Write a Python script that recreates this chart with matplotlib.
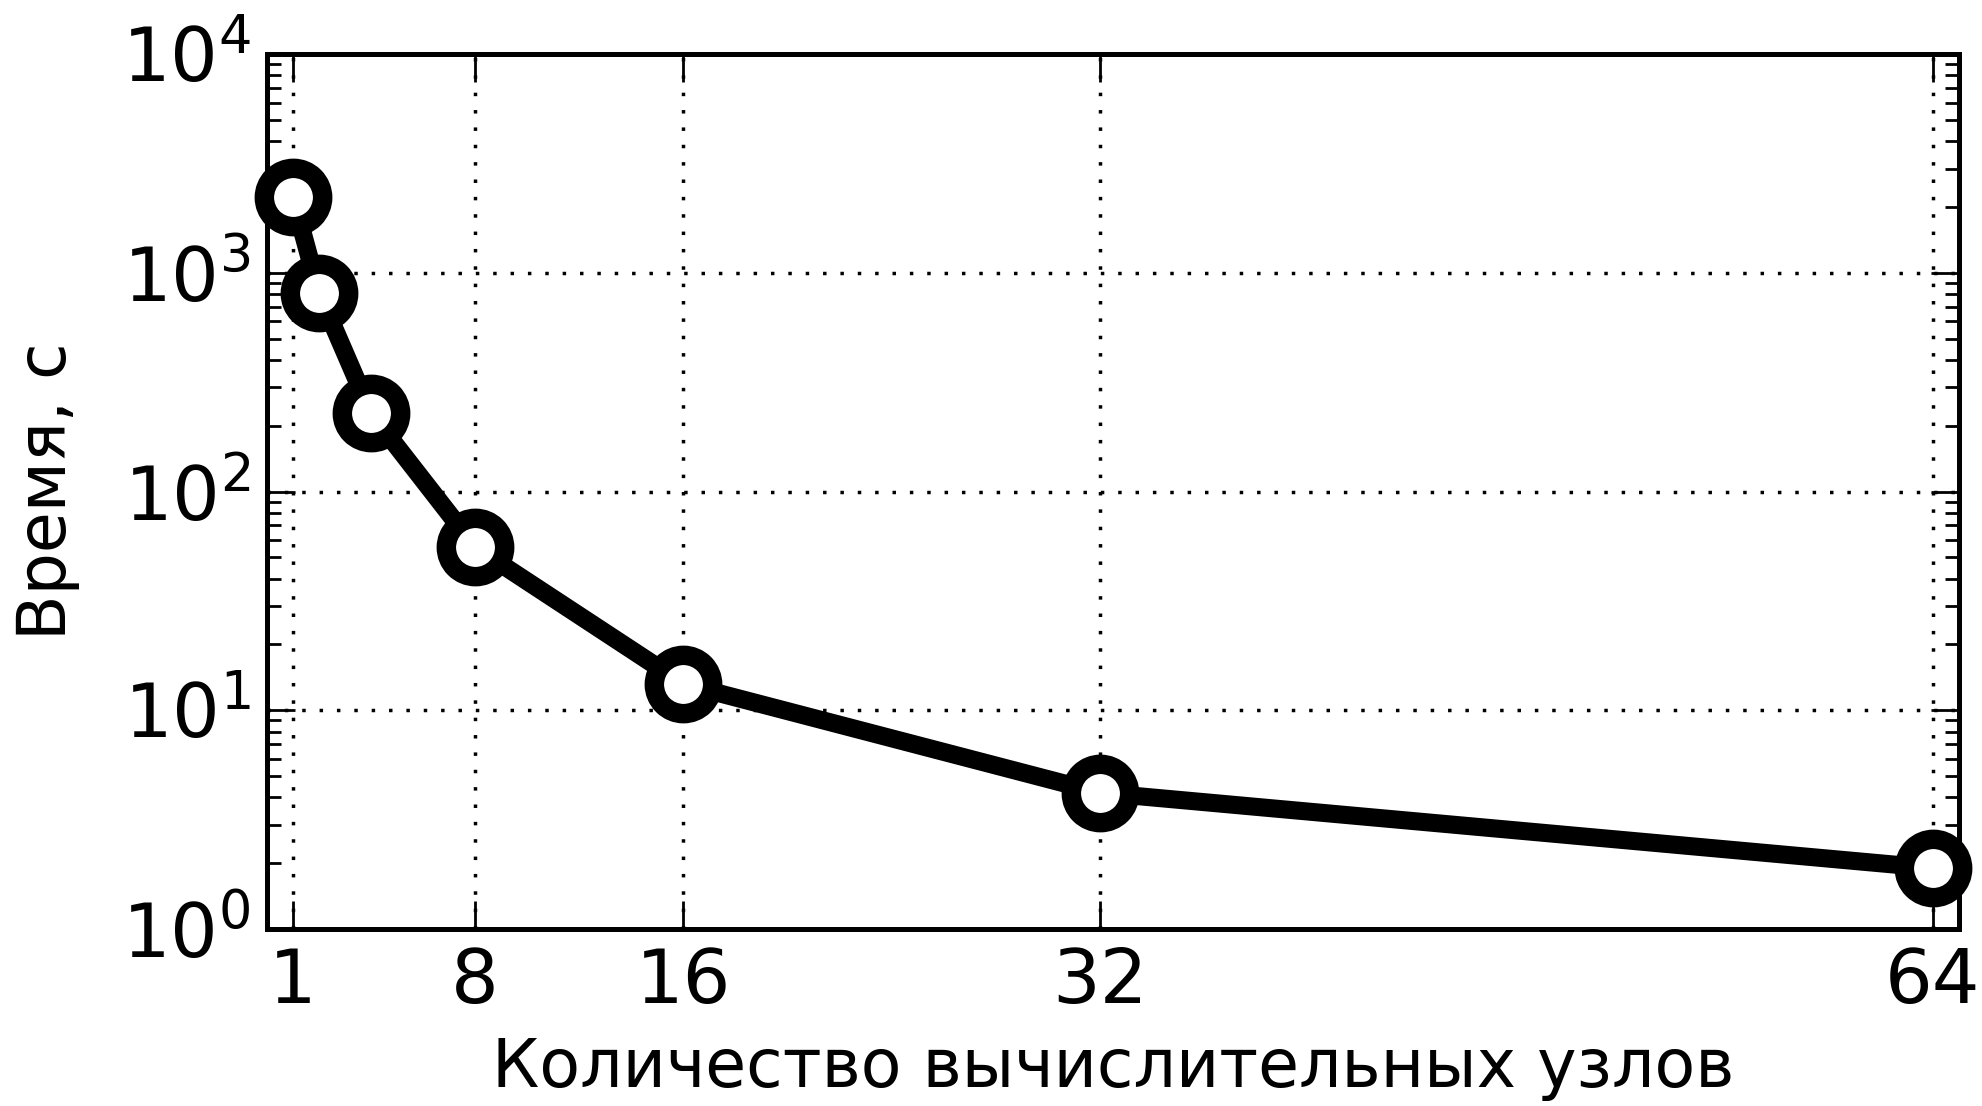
import matplotlib
matplotlib.use("Agg")
import matplotlib.pyplot as plt
from matplotlib.ticker import LogLocator

# Число узлов и время счёта (с)
nodes = [1, 2, 4, 8, 16, 32, 64]
times = [2220, 810, 228, 55.7, 13.2, 4.2, 1.9]
xticks = [1, 8, 16, 32, 64]

plt.rcParams['font.family'] = ['DejaVu Sans']

fig = plt.figure(figsize=(19.82, 11.06), dpi=100)
ax = fig.add_axes([0.1347, 0.160, 0.8537, 0.791])

ax.plot(nodes, times, color='black', lw=13, marker='o', ms=42,
        mew=14, mec='black', mfc='white', zorder=3, clip_on=False)

ax.set_yscale('log')
ax.set_xlim(0, 65)
ax.set_ylim(1, 1e4)
ax.set_xticks(xticks)
ax.set_xticklabels([str(v) for v in xticks])
ax.yaxis.set_minor_locator(LogLocator(base=10, subs=range(2, 10)))

ax.grid(True, which='major', color='black', linestyle=(0, (1, 4)), lw=2.5)

for s in ax.spines.values():
    s.set_linewidth(3.6)

ax.tick_params(which='both', direction='in', top=True, right=True,
               labelsize=54, pad=12, width=2, color='black')
ax.tick_params(which='major', length=20)
ax.tick_params(which='minor', length=10)

ax.set_xlabel('Количество вычислительных узлов', fontsize=48, labelpad=12)
ax.set_ylabel('Время, с', fontsize=48, labelpad=30)

fig.savefig('out.png', dpi=100)
